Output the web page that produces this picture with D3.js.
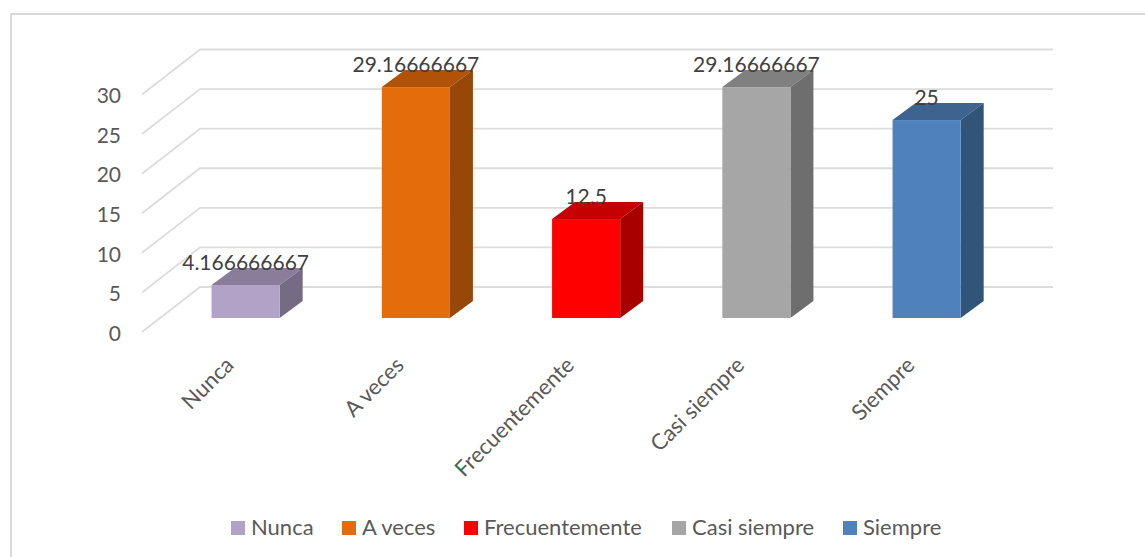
<!DOCTYPE html>
<html>
<head>
<meta charset="utf-8">
<script src="https://cdn.jsdelivr.net/npm/d3@7"></script>
<style>
html, body { margin: 0; padding: 0; background: #fff; }
text { font-family: Lato, "Open Sans", sans-serif; }
</style>
</head>
<body>
<div id="graph"></div>
<script>
const categories = ["Nunca", "A veces", "Frecuentemente", "Casi siempre", "Siempre"];
const values = [4.166666667, 29.16666667, 12.5, 29.16666667, 25];
const valueLabels = ["4.166666667", "29.16666667", "12.5", "29.16666667", "25"];
const frontColors = ["#b3a2c7", "#e46c0a", "#ff0000", "#a6a6a6", "#4f81bd"];
const topColors = ["#8a7d99", "#b05308", "#c40000", "#808080", "#3d6391"];
const sideColors = ["#766b84", "#974707", "#a80000", "#6e6e6e", "#335479"];
const yTicks = [0, 5, 10, 15, 20, 25, 30];
const legendItemX = [231, 342, 464, 672, 843];

const width = 1145;
const height = 557;

var svg = d3.select("#graph").append("svg")
    .attr("width", width).attr("height", height)
    .style("display", "block");

// chart frame, only top and left are inside the picture
svg.append("path")
    .attr("d", "M11," + height + "V14H" + width)
    .attr("fill", "none")
    .attr("stroke", "#d9d9d9")
    .attr("stroke-width", 2);

// y runs along the bar front plane, walls are offset from it
var y = d3.scaleLinear().domain([0, 30]).range([318, 80.5]);
var x = d3.scaleBand().domain(categories)
    .range([160.5, 1011.75])
    .paddingInner(0.6)
    .paddingOuter(0.3);

const wallDy = -31;   // back wall vs bar front
const sideDy = 14;    // left edge of wall vs bar front
const depthX = 23, depthY = 17;

// gridlines: side wall + back wall
var grid = svg.append("g").attr("fill", "none")
    .attr("stroke", "#dcdcdc").attr("stroke-width", 1.8);
grid.selectAll("path")
    .data(yTicks)
    .enter()
    .append("path")
    .attr("d", function (d) {
        return "M142," + (y(d) + sideDy) + "L200," + (y(d) + wallDy) + "H1053";
    });

// y axis
var yAxis = svg.append("g")
    .attr("transform", "translate(121," + (sideDy + 1.5) + ")")
    .call(d3.axisLeft(y).tickValues(yTicks).tickSize(0).tickPadding(0));
yAxis.select(".domain").remove();
yAxis.selectAll("text")
    .attr("font-size", 21).attr("fill", "#595959")
    .style("font-family", "Lato");

// bars
var bars = svg.append("g")
    .selectAll("g")
    .data(values)
    .enter()
    .append("g");

bars.append("path")
    .attr("fill", function (d, i) { return topColors[i]; })
    .attr("d", function (d, i) {
        var x0 = x(categories[i]), w = x.bandwidth(), t = y(d);
        return "M" + x0 + "," + t + "l" + depthX + "," + (-depthY) + "h" + w + "l" + (-depthX) + "," + depthY + "z";
    });

bars.append("path")
    .attr("fill", function (d, i) { return sideColors[i]; })
    .attr("d", function (d, i) {
        var x1 = x(categories[i]) + x.bandwidth(), t = y(d);
        return "M" + x1 + "," + t + "l" + depthX + "," + (-depthY) + "V" + (y(0) - depthY) + "l" + (-depthX) + "," + depthY + "z";
    });

bars.append("rect")
    .attr("x", function (d, i) { return x(categories[i]); })
    .attr("y", function (d) { return y(d); })
    .attr("width", x.bandwidth())
    .attr("height", function (d) { return y(0) - y(d); })
    .attr("fill", function (d, i) { return frontColors[i]; });

// data labels
svg.append("g")
    .selectAll("text")
    .data(values)
    .enter()
    .append("text")
    .attr("x", function (d, i) { return x(categories[i]) + x.bandwidth() / 2; })
    .attr("y", function (d) { return y(d) - 15; })
    .attr("text-anchor", "middle")
    .attr("font-size", 21)
    .attr("fill", "#404040")
    .text(function (d, i) { return valueLabels[i]; });

// category labels
var xAxis = svg.append("g")
    .attr("transform", "translate(0,343)")
    .call(d3.axisBottom(x).tickSize(0).tickPadding(0));
xAxis.select(".domain").remove();
xAxis.selectAll("text")
    .attr("font-size", 22).attr("fill", "#595959")
    .style("font-family", "Lato")
    .attr("text-anchor", "end")
    .attr("dy", "0.35em")
    .attr("y", 0)
    .attr("transform", "translate(-16,18) rotate(-45)");

// legend
var legend = svg.append("g")
    .selectAll("g")
    .data(categories)
    .enter()
    .append("g")
    .attr("transform", function (d, i) { return "translate(" + legendItemX[i] + ",521)"; });
legend.append("rect")
    .attr("width", 14).attr("height", 14)
    .attr("fill", function (d, i) { return frontColors[i]; });
legend.append("text")
    .attr("x", 20).attr("y", 14)
    .attr("font-size", 22)
    .attr("fill", "#595959")
    .style("font-family", "Lato")
    .text(function (d) { return d; });
</script>
</body>
</html>
